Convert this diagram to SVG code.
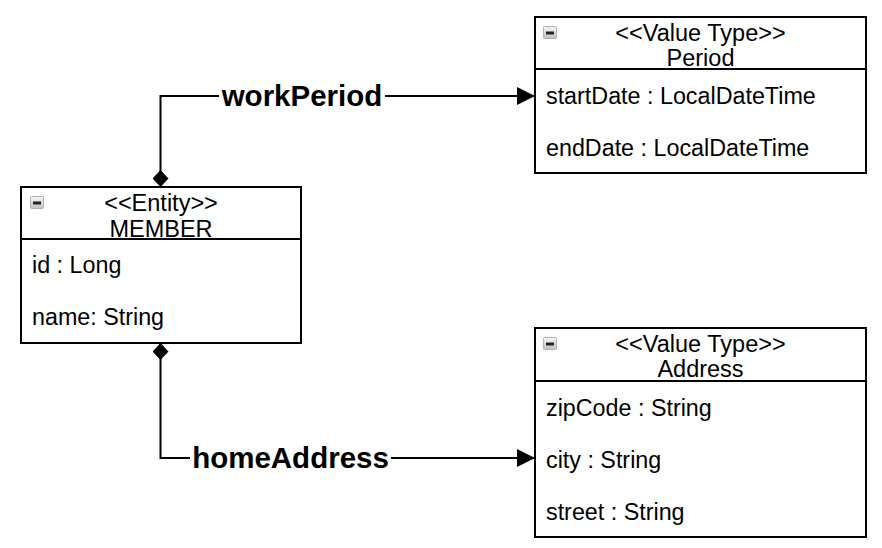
<svg xmlns="http://www.w3.org/2000/svg" width="882" height="548" viewBox="0 0 882 548">
<style>
.box{fill:#fff;stroke:#000;stroke-width:2}
.div{stroke:#000;stroke-width:2}
.t{font-family:"Liberation Sans",Arial,sans-serif;font-size:23.3px;fill:#000}
.h{font-family:"Liberation Sans",Arial,sans-serif;font-size:23.5px;fill:#000;text-anchor:middle}
.lbl{font-family:"Liberation Sans",Arial,sans-serif;font-size:29.5px;font-weight:bold;fill:#000;text-anchor:middle}
.edge{fill:none;stroke:#000;stroke-width:2}
.icon{fill:url(#ig);stroke:#b0b0b0;stroke-width:1}
</style>
<defs>
<linearGradient id="ig" x1="0" y1="0" x2="0" y2="1">
<stop offset="0" stop-color="#f6f6f6"/>
<stop offset="1" stop-color="#c0c0c0"/>
</linearGradient>
<marker id="arrow" viewBox="0 0 18 18" refX="18" refY="9" markerWidth="18" markerHeight="18" markerUnits="userSpaceOnUse" orient="auto">
<path d="M0,0 L18,9 L0,18 Z" fill="#000"/>
</marker>
<marker id="diamond" viewBox="0 0 17 16" refX="0" refY="8" markerWidth="17" markerHeight="16" markerUnits="userSpaceOnUse" orient="auto">
<path d="M0,8 L8.5,0 L17,8 L8.5,16 Z" fill="#000"/>
</marker>
<g id="collapse">
<rect class="icon" x="0.5" y="0.5" width="13" height="12" rx="1"/>
<rect x="3" y="5.5" width="8" height="3" fill="#222"/>
</g>
</defs>
<rect width="882" height="548" fill="#fff"/>

<g id="connectors">
<g id="edge-workPeriod">
<path class="edge" d="M160.5,187 L160.5,96 L535,96" marker-start="url(#diamond)" marker-end="url(#arrow)"/>
<rect x="219" y="80" width="166" height="32" fill="#fff"/>
<text class="lbl" x="302" y="106">workPeriod</text>
</g>
<g id="edge-homeAddress">
<path class="edge" d="M160.5,343 L160.5,458 L535,458" marker-start="url(#diamond)" marker-end="url(#arrow)"/>
<rect x="190" y="442" width="201" height="32" fill="#fff"/>
<text class="lbl" x="290.5" y="468">homeAddress</text>
</g>
</g>

<g id="node-member">
<rect class="box" x="21" y="187" width="280" height="156"/>
<line class="div" x1="21" y1="239" x2="301" y2="239"/>
<use href="#collapse" x="30" y="196"/>
<text class="h" x="161" y="211">&lt;&lt;Entity&gt;&gt;</text>
<text class="h" x="161" y="237">MEMBER</text>
<text class="t" x="32" y="273">id : Long</text>
<text class="t" x="32" y="325">name: String</text>
</g>

<g id="node-period">
<rect class="box" x="535" y="17" width="331" height="156"/>
<line class="div" x1="535" y1="69" x2="866" y2="69"/>
<use href="#collapse" x="543" y="26"/>
<text class="h" x="700.5" y="41">&lt;&lt;Value Type&gt;&gt;</text>
<text class="h" x="700.5" y="66">Period</text>
<text class="t" x="546" y="104">startDate : LocalDateTime</text>
<text class="t" x="546" y="156">endDate : LocalDateTime</text>
</g>

<g id="node-address">
<rect class="box" x="535" y="328" width="331" height="209"/>
<line class="div" x1="535" y1="381" x2="866" y2="381"/>
<use href="#collapse" x="543" y="337"/>
<text class="h" x="700.5" y="352">&lt;&lt;Value Type&gt;&gt;</text>
<text class="h" x="700.5" y="377">Address</text>
<text class="t" x="546" y="416">zipCode : String</text>
<text class="t" x="546" y="468">city : String</text>
<text class="t" x="546" y="520">street : String</text>
</g>
</svg>
